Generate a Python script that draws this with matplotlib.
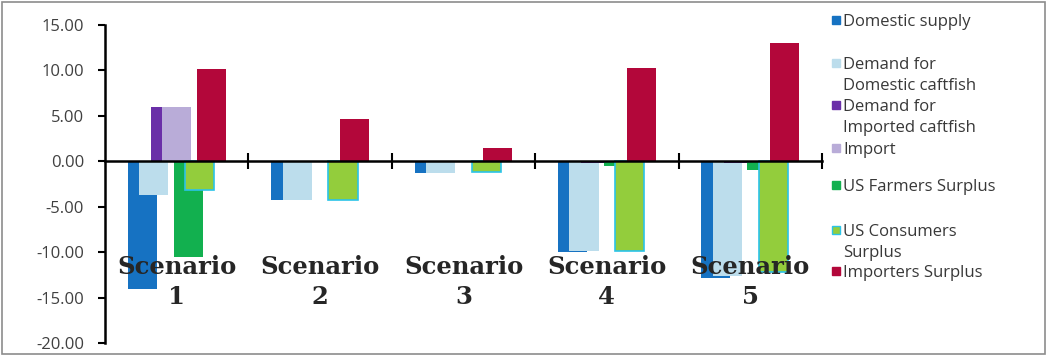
import numpy as np
import matplotlib.pyplot as plt
from matplotlib.patches import Rectangle

# Scenario results (percent change)
scenarios = ["Scenario\n1", "Scenario\n2", "Scenario\n3", "Scenario\n4", "Scenario\n5"]
series_names = ["Domestic supply", "Demand for\nDomestic caftfish", "Demand for\nImported caftfish",
                "Import", "US Farmers Surplus", "US Consumers\nSurplus", "Importers Surplus"]
domestic_supply = [-14.1, -4.3, -1.3, -10.0, -12.8]
demand_domestic = [-3.7, -4.3, -1.3, -9.9, -12.6]
demand_imported = [6.0, 0.0, 0.0, -0.2, -0.2]
imports = [6.0, 0.0, 0.0, 0.0, 0.0]
farmers_surplus = [-10.5, 0.0, 0.0, -0.5, -1.0]
consumers_surplus = [-3.2, -4.3, -1.2, -9.9, -12.2]
importers_surplus = [10.2, 4.6, 1.5, 10.3, 13.0]

values = [domestic_supply, demand_domestic, demand_imported, imports,
          farmers_surplus, consumers_surplus, importers_surplus]
colors = ["#1672C2", "#BCDDEC", "#6A2FA8", "#B9ACD8", "#12B04F", "#93CD3C", "#B3073A"]
edges = [None, None, None, None, None, "#2BC3E8", None]

fig = plt.figure(figsize=(10.47, 3.56), dpi=100)
ax = fig.add_axes([105 / 1047, 1 - 343 / 356, (822 - 105) / 1047, (343 - 25) / 356])

x = np.arange(len(scenarios)) + 0.5
step, width = 0.08, 0.203
for k, (vals, c, ec) in enumerate(zip(values, colors, edges)):
    ax.bar(x + (k - 3) * step, vals, width=width, color=c,
           edgecolor=ec if ec else c, linewidth=1.2 if ec else 0, zorder=2 + k)

ax.set_xlim(0, 5)
ax.set_ylim(-20, 15)
ax.set_yticks(np.arange(-20, 16, 5))
ax.set_yticklabels([f"{v:.2f}" for v in np.arange(-20, 16, 5)],
                   fontsize=12, color="#404040", family="Open Sans")
ax.tick_params(axis="y", direction="out", length=5, width=1.5, pad=10)

# horizontal axis sits at zero with crossing ticks between scenarios
ax.spines["bottom"].set_position(("data", 0))
ax.spines["bottom"].set_linewidth(1.8)
ax.spines["bottom"].set_zorder(20)
ax.spines["left"].set_linewidth(1.8)
ax.spines["top"].set_visible(False)
ax.spines["right"].set_visible(False)
ax.set_xticks(np.arange(1, 6))
ax.tick_params(axis="x", direction="inout", length=12, width=1.5, labelbottom=False)

for xi, name in zip(x, scenarios):
    ax.text(xi, -10.3, name, ha="center", va="top", fontsize=17.5, fontweight="bold",
            family="DejaVu Serif", color="#262626", linespacing=1.3, zorder=30)

# legend on the right; y is the centre of each entry's first line
legend_y = [20, 63, 105, 148, 185, 230, 271]
for name, c, ec, yy in zip(series_names, colors, edges, legend_y):
    fig.patches.append(Rectangle((832 / 1047, 1 - (yy + 4) / 356), 8 / 1047, 8 / 356,
                                 transform=fig.transFigure, facecolor=c,
                                 edgecolor=ec if ec else c, linewidth=1))
    fig.text(843 / 1047, 1 - (yy - 6) / 356, name, ha="left", va="top",
             fontsize=12, family="Open Sans", color="#383838", linespacing=1.42)

# chart border
fig.patches.append(Rectangle((2 / 1047, 2 / 356), 1 - 4 / 1047, 1 - 4 / 356,
                             transform=fig.transFigure, fill=False,
                             edgecolor="#8c8c8c", linewidth=1.2))

fig.savefig("out.png", dpi=100)
